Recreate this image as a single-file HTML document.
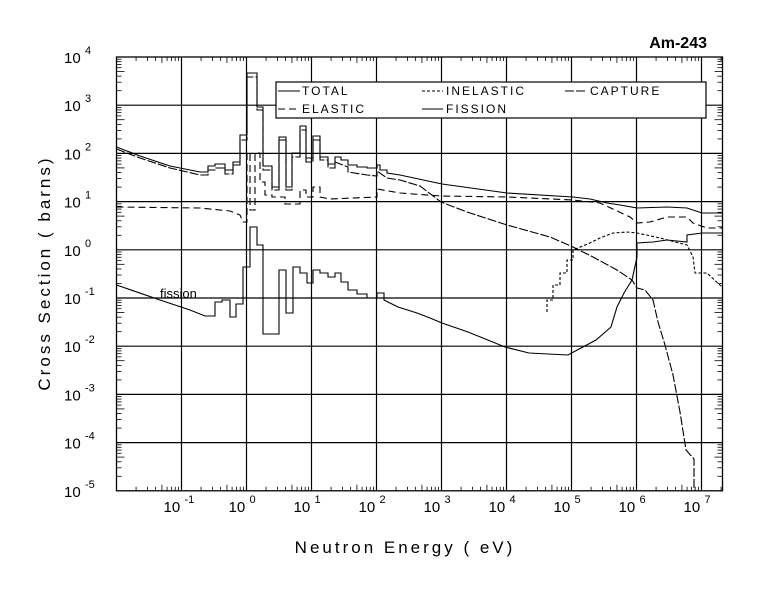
<!DOCTYPE html>
<html><head><meta charset="utf-8"><style>
body{margin:0;background:#fff}
svg text{font-family:"Liberation Sans",sans-serif;fill:#000}
</style></head><body>
<svg id="s" width="779" height="589" xmlns="http://www.w3.org/2000/svg">
<rect width="779" height="589" fill="#fff"/>
<g id="grid" stroke="#000" stroke-width="1.2" fill="none"></g>
<rect x="116.5" y="57" width="606" height="433.8" fill="none" stroke="#000" stroke-width="1.3"/>
<g fill="none" stroke="#000" stroke-width="1.1">
<polyline points="116.5,147 140,156 170,166 200,172 208,172 208,166 215,166 215,164 225,164 225,170 233,170 233,162 240,162 240,135 247,135 247,73 257,73 257,107 263,107 263,166 272,166 272,187 279,187 279,137 286,137 286,187 292,187 292,153 300,153 300,126 306,126 306,158 313,158 313,136 320,136 320,157 328,157 328,164 335,164 335,157 341,157 341,160 348,160 348,165 357,165 357,167 367,167 367,168 377,168 377,165 380,165 380,170 387,170 387,173 400,175 442,184 507,193 573,197 590,199 607,203 620,205 637,208 667,207 687,208 702,213 722,213"/>
<polyline stroke-dasharray="9,2" points="116.5,149 140,158 170,168 200,175 208,175 208,170 215,170 215,168 225,168 225,174 233,174 233,165 240,165 240,140 247,140 247,77 257,77 257,110 263,110 263,170 272,170 272,190 279,190 279,140 286,140 286,190 292,190 292,157 300,157 300,130 306,130 306,162 313,162 313,140 320,140 320,160 328,160 328,168 335,168 335,162 348,167 348,172 367,175 377,176 377,171 387,178 400,180 420,186 441,202 467,212 507,225 550,237 573,247 593,257 617,270 632,280 637,288 645,290 653,300 658,322 665,345 673,375 680,412 686,450 694,459 694,490"/>
<polyline stroke-dasharray="7,4" points="116.5,207 200,208 230,211 240,215 243,222 247,222 247,153 250,153 250,210 255,210 255,153 260,153 260,182 265,182 265,195 272,195 272,197 285,197 285,204 300,204 300,190 306,190 306,197 313,197 313,187 320,187 320,197 330,199 377,197 377,189 400,193 441,196 507,197 573,200 600,203 630,217 637,223 650,222 667,217 687,217 693,223 707,228 722,228"/>
<polyline points="116.5,285 160,300 190,310 205,316 215,316 215,302 222,302 222,300 230,300 230,317 236,317 236,304 243,304 243,267 250,267 250,227 257,227 257,245 263,245 263,334 279,334 279,270 286,270 286,313 293,313 293,267 300,267 300,273 307,273 307,283 313,283 313,270 320,270 320,273 328,273 328,277 335,277 335,273 341,273 341,282 348,282 348,290 357,290 357,294 367,294 367,298 377,298 377,293 384,293 384,300 398,307 417,313 430,318 442,323 468,332 505,347 529,353 568,355 581,348 596,340 611,327 617,307 624,293 632,280 637,257 637,243 653,242 667,240 687,242 687,235 702,233 722,233"/>
<polyline stroke-dasharray="3,2" points="547,312 547,300 553,300 553,285 560,285 560,273 567,273 567,260 573,260 573,250 590,243 600,238 613,233 627,232 637,233 660,238 687,245 693,257 695,273 707,273 722,287"/>
</g>
<text x="707" y="48" text-anchor="end" font-weight="bold" font-size="16">Am-243</text>
<rect x="276" y="82" width="430" height="36" fill="#fff" stroke="#000" stroke-width="1.2"/>
<g stroke="#000" stroke-width="1.1">
<line x1="278" y1="91" x2="300" y2="91"/>
<line x1="278" y1="109" x2="300" y2="109" stroke-dasharray="7,4"/>
<line x1="422" y1="91" x2="443" y2="91" stroke-dasharray="3,2"/>
<line x1="422" y1="109" x2="443" y2="109"/>
<line x1="565" y1="91" x2="587" y2="91" stroke-dasharray="9,2"/>
</g>
<g font-size="12" letter-spacing="2">
<text x="302" y="95">TOTAL</text><text x="302" y="113">ELASTIC</text>
<text x="446" y="95">INELASTIC</text><text x="446" y="113">FISSION</text>
<text x="590" y="95">CAPTURE</text>
</g>
<text x="160" y="298" font-size="13">fission</text>
<g id="lab" font-size="15"></g>
<text transform="translate(50,273) rotate(-90)" text-anchor="middle" font-size="17" letter-spacing="3">Cross Section ( barns)</text>
<text x="405" y="553" text-anchor="middle" font-size="17" letter-spacing="3">Neutron Energy ( eV)</text>
</svg>
<script>
var NS="http://www.w3.org/2000/svg",g=document.getElementById("grid"),lab=document.getElementById("lab");
function ln(x1,y1,x2,y2,w){var l=document.createElementNS(NS,"line");l.setAttribute("x1",x1);l.setAttribute("y1",y1);l.setAttribute("x2",x2);l.setAttribute("y2",y2);if(w)l.setAttribute("stroke-width",w);g.appendChild(l);}
function tx(x,y,s,fs){var t=document.createElementNS(NS,"text");t.setAttribute("x",x);t.setAttribute("y",y);if(fs)t.setAttribute("font-size",fs);t.textContent=s;lab.appendChild(t);}
var L=116.5,R=722.5,T=57,B=490.8;
function X(l){return 246.5+65*l;} function Y(l){return 57+(4-l)*48.2;}
for(var d=-1;d<=7;d++){ln(X(d),T,X(d),B);tx(X(d)-18,512,"10");tx(X(d)+3,503,String(d),11);}
for(var d=-5;d<=4;d++){if(d<4&&d>-5)ln(L,Y(d),R,Y(d));tx(64,Y(d)+6,"10");tx(85,Y(d)-3,String(d),11);}
for(var d=-2;d<=7;d++)for(var m=2;m<10;m++){var x=X(d+Math.log10(m));if(x>R)continue;var len=(m==5)?6:4;ln(x,T,x,T+len,0.8);ln(x,B,x,B-len,0.8);}
for(var d=-5;d<4;d++)for(var m=2;m<10;m++){var y=Y(d+Math.log10(m));var len=(m==5)?8:5;ln(L,y,L+len,y,0.8);ln(R,y,R-len,y,0.8);}
</script>
</body></html>
